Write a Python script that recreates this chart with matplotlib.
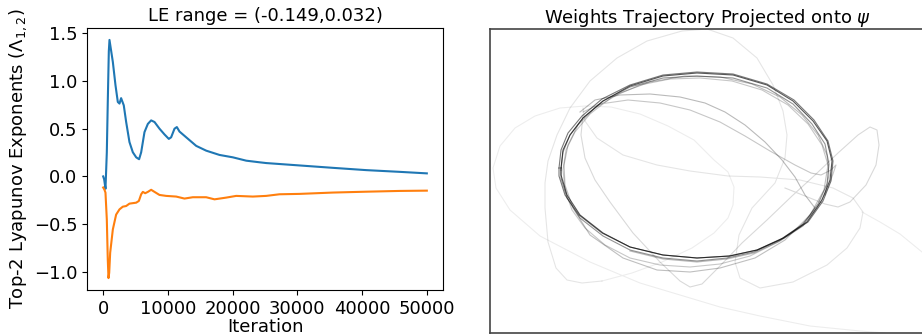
import numpy as np
import matplotlib
matplotlib.use("Agg")
import matplotlib.pyplot as plt

plt.rcParams['font.family'] = ['DejaVu Sans']
plt.rcParams['font.size'] = 13

# ---------------- Left panel data: top-2 Lyapunov exponents ----------------
iter_blue = [0, 150, 355, 560, 710, 870, 973, 1490, 1900, 2260, 2520, 2770, 3180, 3550,
             4060, 4580, 5100, 5550, 5870, 6380, 6900, 7410, 7930, 8700, 9470, 10140,
             10500, 11020, 11380, 11790, 12820, 14370, 15910, 17970, 20030, 22100,
             24150, 25180, 27240, 30330, 35480, 40630, 45780, 50000]
le1 = [0.0, -0.03, -0.13, 0.25, 0.78, 1.31, 1.43, 1.20, 0.956, 0.78, 0.763, 0.82, 0.745,
       0.57, 0.36, 0.253, 0.20, 0.18, 0.253, 0.464, 0.55, 0.587, 0.57, 0.50, 0.44, 0.393,
       0.41, 0.50, 0.517, 0.47, 0.41, 0.32, 0.27, 0.225, 0.20, 0.165, 0.148, 0.14,
       0.13, 0.115, 0.09, 0.066, 0.048, 0.032]

iter_orange = [0, 200, 355, 560, 710, 820, 930, 1080, 1490, 2000, 2520, 3030, 3550, 4060,
               5100, 5510, 5870, 6130, 6490, 6900, 7410, 7930, 8700, 9730, 11280, 12560,
               13850, 15910, 17200, 19000, 20550, 23120, 25180, 27240, 30330, 35480,
               40630, 45780, 50000]
le2 = [-0.116, -0.14, -0.17, -0.45, -0.87, -1.065, -1.01, -0.80, -0.556, -0.40, -0.345,
       -0.317, -0.31, -0.285, -0.275, -0.257, -0.187, -0.162, -0.176, -0.162, -0.14,
       -0.162, -0.194, -0.204, -0.211, -0.232, -0.218, -0.218, -0.24, -0.222, -0.204,
       -0.211, -0.204, -0.187, -0.183, -0.169, -0.16, -0.152, -0.149]

x_ticks = [0, 10000, 20000, 30000, 40000, 50000]
y_ticks = [-1.0, -0.5, 0.0, 0.5, 1.0, 1.5]

# ---------------- Right panel data: projected weight trajectory ----------------
# each stroke: (psi1 values, psi2 values, opacity)  -- later strokes are darker
traj_x = [
    [922, 900, 880, 862],
    [885, 860, 810, 760, 720, 690, 640, 590, 540, 510, 496, 493, 500, 515, 535, 560, 585,
     611, 640, 668, 694, 714, 728, 734, 733, 728, 714, 692, 662, 632, 602],
    [602, 582, 567, 556, 548, 545, 545, 548, 557, 570, 590, 617, 647, 682, 707, 733, 757,
     773, 783, 787, 785, 775, 752, 739, 735, 740, 760, 793, 827, 847, 860, 863, 853, 833,
     800, 760, 728, 690, 657, 623, 597, 585, 583],
    [583, 581, 585, 595, 610, 633, 660, 680, 690, 702, 720, 742, 767, 792, 815, 838, 858,
     870, 877, 879, 876, 866, 850, 838, 825, 805, 785],
    [583, 600, 628, 660, 690, 720, 745, 770, 795, 811, 821, 831, 836, 833, 827, 817, 800,
     778, 750, 720, 690, 660, 630, 605, 585, 572, 565, 563, 566, 575, 590, 612, 640, 670,
     700, 732, 762, 788, 808, 822, 828],
    [828, 824, 810, 785, 755, 720, 690, 657, 623, 590, 573, 565, 564, 568, 578, 595, 620,
     650, 685, 720, 752, 780, 802, 818, 827, 829, 825],
    [580, 595, 620, 650, 680, 705, 725, 745, 765, 782, 795, 805, 815, 803, 780, 754, 727,
     697, 663, 630],
    [561, 563, 570, 583, 603, 630, 663, 697, 733, 767, 793, 812, 825, 829, 827, 818, 803,
     780, 754, 727, 697, 663, 630, 603, 580, 567, 561, 561],
    [559, 561, 568, 582, 602, 630, 663, 697, 733, 767, 794, 814, 828, 833, 831, 823, 808,
     784, 757, 729, 697, 663, 630, 602, 579, 565, 559, 559],
    [561, 563, 570, 583, 603, 630, 663, 697, 733, 767, 793, 813, 827, 832, 830, 822, 807,
     783, 757, 730, 697, 663, 630, 603, 580, 567, 561, 561],
]
traj_y = [
    [252, 234, 222, 212],
    [333, 331, 326, 316, 307, 298, 283, 262, 236, 210, 188, 168, 146, 128, 116, 108, 106,
     107, 114, 126, 140, 160, 172, 187, 205, 218, 233, 248, 262, 273, 281],
    [281, 283, 280, 268, 242, 208, 183, 161, 135, 108, 81, 58, 41, 31, 29, 38, 58, 85, 111,
     135, 158, 183, 208, 235, 262, 278, 288, 282, 265, 248, 228, 212, 198, 188, 180, 177,
     176, 171, 165, 155, 138, 121, 108],
    [115, 135, 158, 180, 202, 233, 262, 281, 287, 284, 266, 243, 220, 196, 175, 153, 135,
     127, 130, 145, 165, 185, 202, 207, 204, 196, 188],
    [112, 104, 100, 103, 110, 122, 136, 151, 165, 173, 175, 170, 165, 174, 190, 208, 227,
     242, 256, 264, 267, 265, 258, 245, 228, 210, 190, 170, 150, 132, 114, 97, 85, 79, 78,
     81, 90, 105, 124, 145, 165],
    [165, 190, 215, 240, 258, 268, 272, 270, 258, 235, 208, 185, 165, 145, 125, 108, 93,
     82, 76, 77, 84, 97, 115, 135, 155, 175, 195],
    [112, 100, 95, 94, 97, 103, 112, 125, 142, 160, 177, 195, 208, 226, 241, 253, 259, 262,
     259, 251],
    [170, 152, 135, 118, 101, 87, 78, 76, 78, 88, 104, 124, 144, 164, 184, 204, 224, 240,
     252, 258, 261, 258, 250, 236, 218, 198, 178, 170],
    [168, 150, 133, 116, 99, 85, 75, 72, 74, 84, 100, 120, 141, 161, 181, 201, 222, 238,
     250, 256, 258, 255, 247, 233, 215, 195, 176, 168],
    [168, 150, 135, 118, 101, 86, 76, 73, 75, 85, 101, 121, 141, 161, 180, 200, 222, 238,
     250, 256, 258, 255, 247, 233, 215, 195, 175, 168],
]
traj_alpha = [0.07, 0.07, 0.10, 0.15, 0.22, 0.25, 0.27, 0.42, 0.52, 0.65]

# ---------------- Figure ----------------
fig = plt.figure(figsize=(9.22, 3.35), dpi=100)

ax1 = fig.add_axes([87 / 922, 45 / 335, 356 / 922, 262 / 335])
ax1.plot(iter_blue, le1, color='#1f77b4', lw=1.5)
ax1.plot(iter_orange, le2, color='#ff7f0e', lw=1.5)
ax1.set_xticks(x_ticks)
ax1.set_yticks(y_ticks)
ax1.tick_params(labelsize=13)
ax1.set_xlabel('Iteration', labelpad=0, fontsize=13)
ax1.set_ylabel(r'Top-2 Lyapunov Exponents ($\Lambda_{1,2}$)', labelpad=3, fontsize=13)
ax1.set_title('LE range = (-0.149,0.032)', pad=5, fontsize=13)
for s in ax1.spines.values():
    s.set_color('black')

ax2 = fig.add_axes([490 / 922, 2 / 335, 434 / 922, 304 / 335])
for xs, ys, a in zip(traj_x, traj_y, traj_alpha):
    ax2.plot(xs, ys, color='black', alpha=a, lw=0.8, solid_joinstyle='round')
ax2.set_xlim(490, 924)
ax2.set_ylim(333, 29)
ax2.set_xticks([])
ax2.set_yticks([])
for s in ax2.spines.values():
    s.set_color('#444444')
    s.set_linewidth(1.2)
ax2.set_title(r'Weights Trajectory Projected onto $\psi$', pad=4, fontsize=13)

fig.savefig('out.png', dpi=100)
